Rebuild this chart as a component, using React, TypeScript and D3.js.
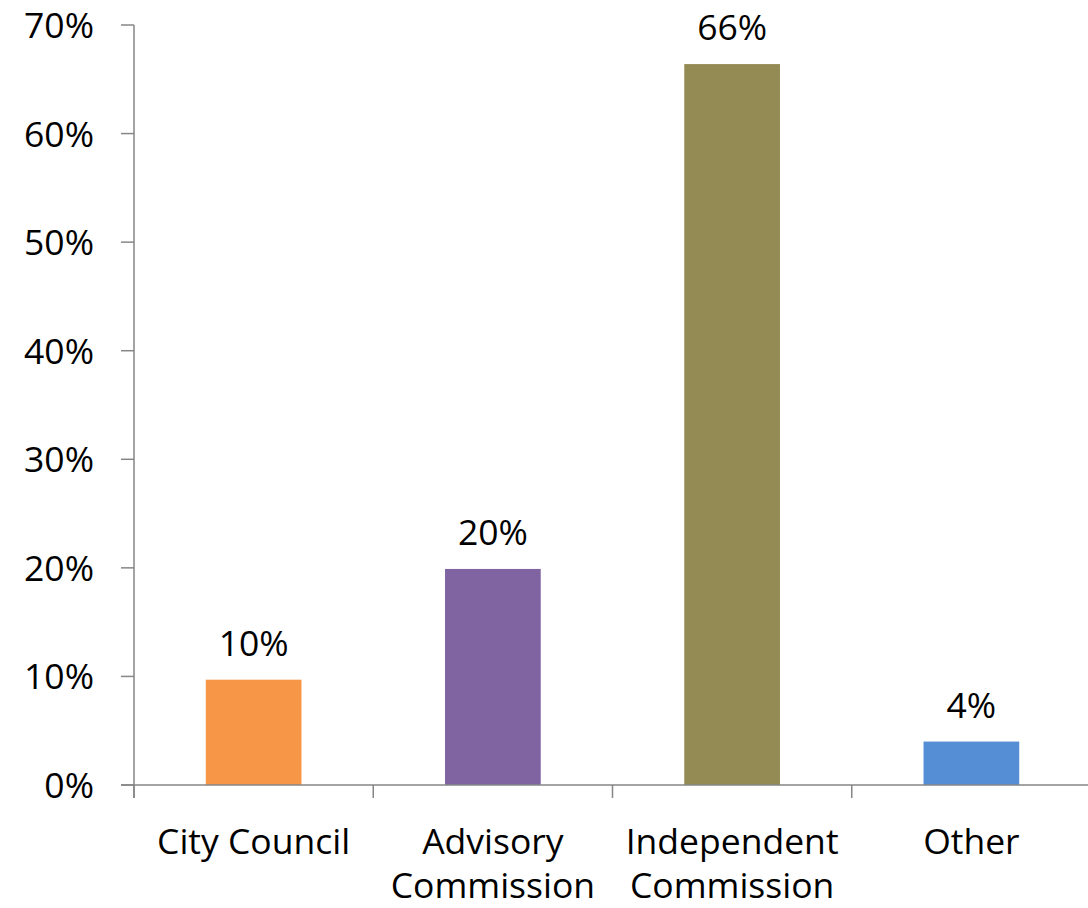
import React from "react";
import * as d3 from "d3";

const categories: string[][] = [["City Council"], ["Advisory", "Commission"], ["Independent", "Commission"], ["Other"]];
const values: number[] = [0.097, 0.199, 0.664, 0.04];
const dataLabels: string[] = ["10%", "20%", "66%", "4%"];
const colors: string[] = ["#F79646", "#8064A2", "#948A54", "#558ED5"];
const yTicks: number[] = [0, 0.1, 0.2, 0.3, 0.4, 0.5, 0.6, 0.7];

const W = 1088, H = 908;
const FONT = "'Open Sans', sans-serif";
const FS = 35.5;

export default function App() {
  const keys = categories.map((c) => c.join(" "));
  const x = d3.scaleBand<string>().domain(keys).range([134, 1091]).paddingInner(0.6).paddingOuter(0.3);
  const y = d3.scaleLinear().domain([0, 0.7]).range([785, 25]);
  const step = x.step();
  const axisColor = "#868686";
  const tickXs = keys.map((k) => (x(k) as number) - step * 0.3);
  return (
    <svg width={W} height={H} style={{ position: "absolute", left: 0, top: 0, background: "#fff" }} fontFamily={FONT}>
      {values.map((v, i) => (
        <rect key={i} x={x(keys[i])} y={y(v)} width={x.bandwidth()} height={y(0) - y(v)} fill={colors[i]} />
      ))}
      {values.map((v, i) => (
        <text key={"l" + i} x={(x(keys[i]) as number) + x.bandwidth() / 2} y={y(v) - 24} textAnchor="middle" fontSize={FS} fill="#000">
          {dataLabels[i]}
        </text>
      ))}
      <line x1={134} x2={134} y1={25} y2={798} stroke={axisColor} strokeWidth={1.5} />
      {yTicks.map((t) => (
        <g key={t}>
          <line x1={121} x2={134} y1={y(t)} y2={y(t)} stroke={axisColor} strokeWidth={1.5} />
          <text x={94} y={y(t) + 13} textAnchor="end" fontSize={FS} fill="#000">
            {d3.format(".0%")(t)}
          </text>
        </g>
      ))}
      <line x1={121} x2={W} y1={785} y2={785} stroke={axisColor} strokeWidth={1.5} />
      {tickXs.map((tx, i) => (
        <line key={"t" + i} x1={tx} x2={tx} y1={785} y2={798} stroke={axisColor} strokeWidth={1.5} />
      ))}
      {categories.map((lines, i) =>
        lines.map((ln, j) => (
          <text key={"c" + i + "-" + j} x={(x(keys[i]) as number) + x.bandwidth() / 2} y={854 + j * 44} textAnchor="middle" fontSize={FS} fill="#000">
            {ln}
          </text>
        ))
      )}
    </svg>
  );
}
